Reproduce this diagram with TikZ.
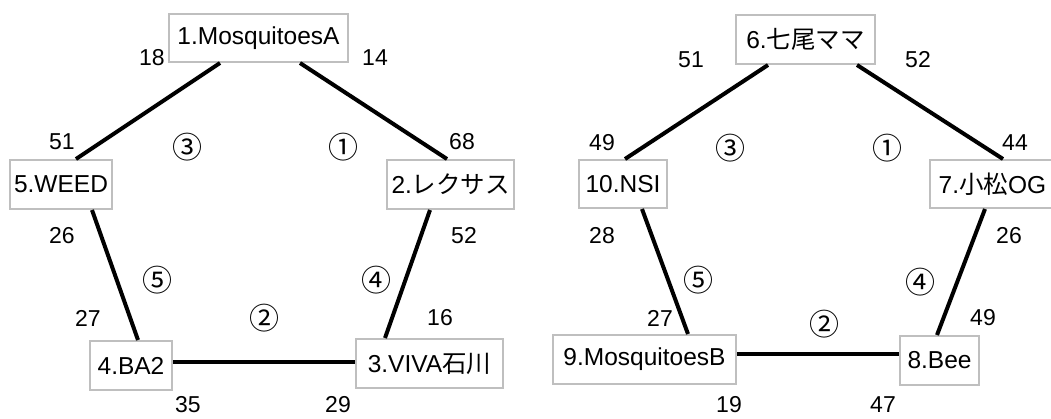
\documentclass[tikz,border=0pt]{standalone}
\usepackage{fontspec}
\setmainfont{Liberation Sans}
\newfontfamily\jp{Noto Sans CJK JP}
\begin{document}
\begin{tikzpicture}[x=1pt,y=-1pt,
  team/.style={draw=black!25, line width=2pt, fill=white, inner sep=0pt, font=\fontsize{24.5}{27}\selectfont},
  edge/.style={line width=4pt, black},
  score/.style={inner sep=0pt, font=\fontsize{23}{25}\selectfont},
  rnd/.style={inner sep=0pt, font=\jp\fontsize{30}{33}\selectfont}]
\useasboundingbox (0,0) rectangle (1051,418);
% left pool
\node[team, minimum width=179pt, minimum height=48pt] (b1) at (258.5,38) {1.MosquitoesA};
\node[team, minimum width=102pt, minimum height=49pt] (b5) at (61,184.5) {5.WEED};
\node[team, minimum width=127pt, minimum height=49pt] (b2) at (450.5,184.5) {2.{\jp レクサス}};
\node[team, minimum width=82pt, minimum height=49pt] (b4) at (131,365.5) {4.BA2};
\node[team, minimum width=147pt, minimum height=49pt] (b3) at (429.5,363.5) {3.VIVA{\jp 石川}};
% right pool
\node[team, minimum width=139pt, minimum height=49pt] (b6) at (805.5,39.5) {6.{\jp 七尾ママ}};
\node[team, minimum width=88pt, minimum height=48pt] (b10) at (623,184) {10.NSI};
\node[team, minimum width=125pt, minimum height=48pt] (b7) at (992.5,184) {7.{\jp 小松}OG};
\node[team, minimum width=183pt, minimum height=49pt] (b9) at (644.5,359.5) {9.MosquitoesB};
\node[team, minimum width=79pt, minimum height=49pt] (b8) at (939.5,360.5) {8.Bee};
% left edges
\draw[edge] ([xshift=-38.5pt]b1.south) -- ([xshift=15pt]b5.north);
\draw[edge] ([xshift=41.5pt]b1.south) -- ([xshift=-3.5pt]b2.north);
\draw[edge] ([xshift=31pt]b5.south) -- ([xshift=7pt]b4.north);
\draw[edge] ([xshift=-20.5pt]b2.south) -- ([xshift=-44.5pt]b3.north);
\draw[edge] ([yshift=4pt]b4.east) -- ([yshift=4pt]b4.east -| b3.west);
% right edges
\draw[edge] ([xshift=-37.5pt]b6.south) -- ([xshift=2pt]b10.north);
\draw[edge] ([xshift=51.5pt]b6.south) -- ([xshift=10.5pt]b7.north);
\draw[edge] ([xshift=19pt]b10.south) -- ([xshift=43.5pt]b9.north);
\draw[edge] ([xshift=-7.5pt]b7.south) -- ([xshift=-2.5pt]b8.north);
\draw[edge] ([yshift=5.5pt]b9.east) -- ([yshift=5.5pt]b9.east -| b8.west);
% left scores
\node[score] (s1) at (152,58) {18};
\node[score] (s2) at (375,58) {14};
\node[score] (s3) at (62,142) {51};
\node[score] (s4) at (462,142) {68};
\node[score] (s5) at (62,236) {26};
\node[score] (s6) at (464,236) {52};
\node[score] (s7) at (88,318) {27};
\node[score] (s8) at (440,318) {16};
\node[score] (s9) at (188,405) {35};
\node[score] (s10) at (338,405) {29};
\node[rnd] (r1) at (187,147) {③};
\node[rnd] (r2) at (343,147) {①};
\node[rnd] (r3) at (157,280) {⑤};
\node[rnd] (r4) at (376,280) {④};
\node[rnd] (r5) at (264,318) {②};
% right scores
\node[score] (t1) at (691,60) {51};
\node[score] (t2) at (918,60) {52};
\node[score] (t3) at (602,143) {49};
\node[score] (t4) at (1015,143) {44};
\node[score] (t5) at (602,236) {28};
\node[score] (t6) at (1009,236) {26};
\node[score] (t7) at (660,318) {27};
\node[score] (t8) at (983,318) {49};
\node[score] (t9) at (729,405) {19};
\node[score] (t10) at (883,405) {47};
\node[rnd] (q1) at (730,148) {③};
\node[rnd] (q2) at (887,148) {①};
\node[rnd] (q3) at (698,280) {⑤};
\node[rnd] (q4) at (920,282) {④};
\node[rnd] (q5) at (824,324) {②};
\end{tikzpicture}
\end{document}
